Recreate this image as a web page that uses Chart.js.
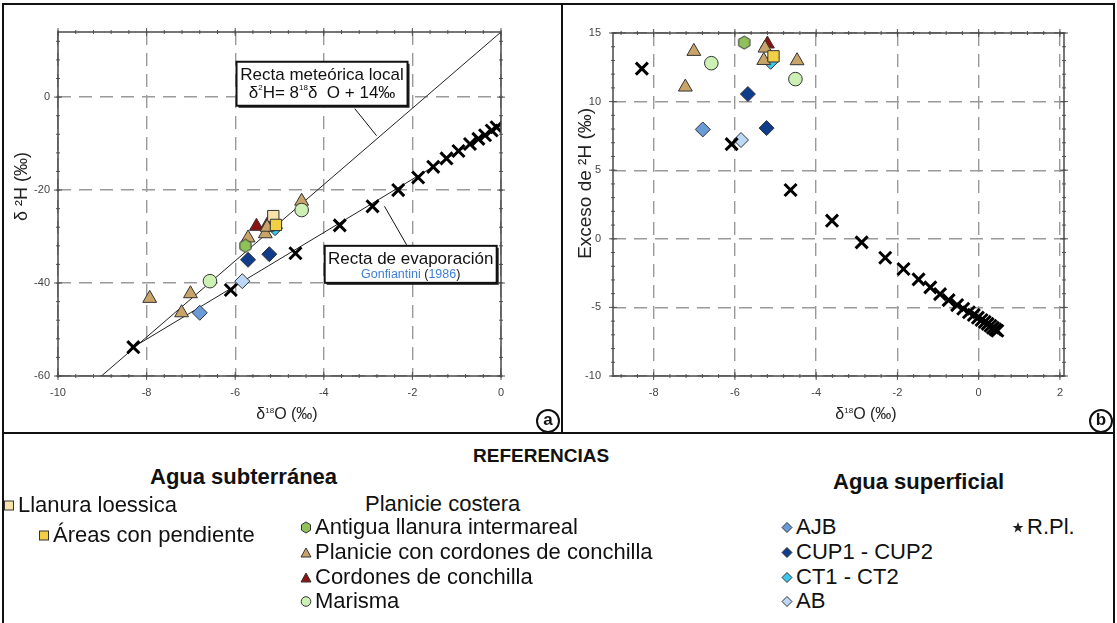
<!DOCTYPE html>
<html>
<head>
<meta charset="utf-8">
<script src="https://cdn.jsdelivr.net/npm/chart.js@4.4.1/dist/chart.umd.min.js"></script>
<style>
  body { margin: 0; background: #fff; font-family: "Liberation Sans", Arial, sans-serif; color: #111; }
  #wrap { position: relative; width: 1117px; height: 623px; overflow: hidden; background: #fff; }
  canvas { position: absolute; top: 0; }
  .rule { position: absolute; background: #111; }
  .xt { position: absolute; white-space: nowrap; font-size: 16px; color: #222; transform: translateX(-50%); }
  .xt sup { font-size: 8px; }
  .circ { position: absolute; width: 20px; height: 20px; border: 2px solid #111; border-radius: 50%;
          font: bold 17px "Liberation Sans", Arial, sans-serif; text-align: center; line-height: 18px; background: #fff; }
  .item { position: absolute; white-space: nowrap; font-size: 22px; line-height: 1; display: flex; align-items: center; }
  .item svg { margin-right: 3px; }
  .head { position: absolute; white-space: nowrap; font-weight: bold; line-height: 1; }
</style>
</head>
<body>
<div id="wrap">
  <canvas id="chartA" width="562" height="432" style="left:0"></canvas>
  <canvas id="chartB" width="554" height="432" style="left:563px"></canvas>

  <div class="xt" style="left:287px;top:405px">δ<sup>18</sup>O (‰)</div>
  <div class="xt" style="left:866px;top:405px">δ<sup>18</sup>O (‰)</div>
  <div class="circ" style="left:536px;top:409px">a</div>
  <div class="circ" style="left:1089px;top:409px">b</div>

  <!-- panel frames -->
  <div class="rule" style="left:2px;top:3px;width:1113px;height:2px"></div>
  <div class="rule" style="left:2px;top:3px;width:2px;height:620px"></div>
  <div class="rule" style="left:1113px;top:3px;width:2px;height:620px"></div>
  <div class="rule" style="left:561px;top:3px;width:2px;height:430px"></div>
  <div class="rule" style="left:2px;top:432px;width:1113px;height:2px"></div>

  <div id="legend"></div>
</div>

<script>
// ---- panel a: δ18O vs δ2H ----
const xTicksA = [-10, -8, -6, -4, -2, 0];
const yTicksA = [-60, -40, -20, 0];

const rplO_a = [-8.3, -6.1, -4.64, -3.64, -2.9, -2.32, -1.87, -1.53, -1.23, -0.96, -0.7, -0.51, -0.36, -0.21, -0.1];
const rplH_a = [-53.8, -41.5, -33.6, -27.6, -23.5, -20.0, -17.3, -15.0, -13.2, -11.6, -10.1, -9.0, -8.2, -7.2, -6.5];

const cordonesPlanO_a = [-7.93, -7.01, -7.21, -5.71, -5.32, -5.28, -4.5];
const cordonesPlanH_a = [-43.3, -42.3, -46.4, -30.3, -29.4, -28.0, -22.4];
const cordonesO_a = [-5.52, -5.27];
const cordonesH_a = [-27.8, -27.4];
const intermarealO_a = [-5.77];
const intermarealH_a = [-32.0];
const marismaO_a = [-6.57, -4.5];
const marismaH_a = [-39.6, -24.3];
const loessicaO_a = [-5.14];
const loessicaH_a = [-25.6];
const pendienteO_a = [-5.08];
const pendienteH_a = [-27.5];
const ajbO_a = [-6.8];
const ajbH_a = [-46.4];
const cupO_a = [-5.71, -5.23];
const cupH_a = [-35.0, -33.8];
const ctO_a = [-5.1];
const ctH_a = [-28.2];
const abO_a = [-5.84];
const abH_a = [-39.6];

// reference lines drawn in panel a
const meteoricO = [-9.02, 0];
const meteoricH = [-60, 14];
const evapO = [-8.3, 0];
const evapH = [-53.8, -6.2];

// ---- panel b: δ18O vs exceso de 2H ----
const xTicksB = [-8, -6, -4, -2, 0, 2];
const yTicksB = [-10, -5, 0, 5, 10, 15];

const rplO_b = [-8.29, -6.08, -4.63, -3.61, -2.88, -2.3, -1.85, -1.48, -1.19, -0.95, -0.74, -0.53, -0.38, -0.24, -0.12, -0.02, 0.07, 0.15, 0.22, 0.29, 0.35, 0.41, 0.46];
const rplD_b = [12.4, 6.9, 3.56, 1.32, -0.26, -1.38, -2.2, -2.96, -3.54, -4.03, -4.47, -4.83, -5.1, -5.35, -5.55, -5.75, -5.92, -6.06, -6.2, -6.34, -6.48, -6.6, -6.7];

const cordonesPlanO_b = [-7.01, -7.22, -5.29, -5.26, -4.47];
const cordonesPlanD_b = [13.66, 11.06, 13.0, 13.9, 12.98];
const cordonesO_b = [-5.2];
const cordonesD_b = [14.2];
const intermarealO_b = [-5.77];
const intermarealD_b = [14.3];
const marismaO_b = [-6.58, -4.51];
const marismaD_b = [12.8, 11.64];
const pendienteO_b = [-5.05];
const pendienteD_b = [13.3];
const ajbO_b = [-6.79];
const ajbD_b = [7.97];
const cupO_b = [-5.68, -5.22];
const cupD_b = [10.55, 8.07];
const ctO_b = [-5.12];
const ctD_b = [12.9];
const abO_b = [-5.85];
const abD_b = [7.2];

const colors = {
  cordonesPlan: '#c9a468',
  cordones: '#8e1212',
  intermareal: '#8fc05a',
  marisma: '#cdf0b4',
  loessica: '#f7e3aa',
  pendiente: '#f3cf45',
  ajb: '#6a9bd9',
  cup: '#0f3d8b',
  ct: '#3cc7ec',
  ab: '#bdd7f6'
};

function pts(xs, ys) {
  return xs.map((v, i) => ({ x: v, y: ys[i] }));
}

// hexagon marker for "Antigua llanura intermareal"
function hexagon(size, fill) {
  const c = document.createElement('canvas');
  c.width = c.height = size;
  const g = c.getContext('2d');
  const r = size / 2 - 1;
  g.beginPath();
  for (let i = 0; i < 6; i++) {
    const a = -Math.PI / 2 + i * Math.PI / 3;
    const px = size / 2 + r * Math.cos(a), py = size / 2 + r * Math.sin(a);
    if (i === 0) g.moveTo(px, py); else g.lineTo(px, py);
  }
  g.closePath();
  g.fillStyle = fill;
  g.fill();
  g.strokeStyle = '#333';
  g.lineWidth = 1;
  g.stroke();
  return c;
}
const hexImg = hexagon(15, colors.intermareal);

function markerSet(label, data, style, color, radius) {
  return {
    label, data,
    pointStyle: style,
    pointRadius: radius,
    pointBackgroundColor: color,
    pointBorderColor: '#333',
    pointBorderWidth: 1,
    showLine: false
  };
}

function rplSet(data) {
  return {
    label: 'R.Pl.', data,
    pointStyle: 'crossRot',
    pointRadius: 8.5,
    pointBorderColor: '#000',
    pointBorderWidth: 3,
    showLine: false
  };
}

// frame, tick marks and annotation boxes
const framePlugin = {
  id: 'frame',
  afterDatasetsDraw(chart, args, opts) {
    const { ctx, chartArea: a, scales: { x, y } } = chart;
    ctx.save();
    ctx.strokeStyle = '#555';
    ctx.lineWidth = 1;
    const mark = (v, len, axis) => {
      ctx.beginPath();
      if (axis === 'x') {
        const px = x.getPixelForValue(v);
        ctx.moveTo(px, a.bottom - len); ctx.lineTo(px, a.bottom + len);
        ctx.moveTo(px, a.top - len); ctx.lineTo(px, a.top + len);
      } else {
        const py = y.getPixelForValue(v);
        ctx.moveTo(a.left - len, py); ctx.lineTo(a.left + len, py);
        ctx.moveTo(a.right - len, py); ctx.lineTo(a.right + len, py);
      }
      ctx.stroke();
    };
    const first = (min, step) => Math.ceil(min / step - 1e-9) * step;
    for (let v = first(x.min, opts.xMinor); v <= x.max + 1e-9; v += opts.xMinor) mark(v, 2, 'x');
    for (let v = first(y.min, opts.yMinor); v <= y.max + 1e-9; v += opts.yMinor) mark(v, 2, 'y');
    x.ticks.forEach(t => mark(t.value, 4, 'x'));
    y.ticks.forEach(t => mark(t.value, 4, 'y'));
    ctx.lineWidth = 1.5;
    ctx.strokeStyle = '#4a4a4a';
    ctx.strokeRect(a.left, a.top, a.right - a.left, a.bottom - a.top);

    (opts.notes || []).forEach(n => {
      const bx = x.getPixelForValue(n.at[0]), by = y.getPixelForValue(n.at[1]);
      ctx.lineWidth = 1;
      ctx.strokeStyle = '#111';
      ctx.beginPath();
      ctx.moveTo(x.getPixelForValue(n.leader[0]), y.getPixelForValue(n.leader[1]));
      ctx.lineTo(x.getPixelForValue(n.leader[2]), y.getPixelForValue(n.leader[3]));
      ctx.stroke();
      ctx.fillStyle = '#222';
      ctx.fillRect(bx + 2, by + 2, n.w, n.h);
      ctx.fillStyle = '#fff';
      ctx.fillRect(bx, by, n.w, n.h);
      ctx.lineWidth = 2;
      ctx.strokeRect(bx, by, n.w, n.h);
      ctx.textBaseline = 'middle';
      n.lines.forEach(line => {
        // each part is [text, size, color, raise]
        let total = 0;
        line.parts.forEach(p => { ctx.font = p[1] + 'px "Liberation Sans", Arial'; total += ctx.measureText(p[0]).width; });
        let cx = bx + n.w / 2 - total / 2;
        line.parts.forEach(p => {
          ctx.font = p[1] + 'px "Liberation Sans", Arial';
          ctx.fillStyle = p[2] || '#111';
          ctx.fillText(p[0], cx, by + line.dy - (p[3] || 0));
          cx += ctx.measureText(p[0]).width;
        });
      });
    });
    ctx.restore();
  }
};

function axisOpts(min, max, ticks, pad, title, titleSize) {
  const o = {
    min, max,
    afterBuildTicks: s => { s.ticks = ticks.map(v => ({ value: v })); },
    grid: { color: '#9a9a9a', lineWidth: 1.4, drawTicks: false },
    border: { display: false, dash: [13, 8] },
    ticks: { color: '#444', font: { size: 11, family: '"Liberation Sans", Arial' }, padding: pad }
  };
  if (title) {
    o.title = { display: true, text: title, color: '#222', padding: { top: 3, bottom: 0 },
                font: { size: titleSize, family: '"Liberation Sans", Arial' } };
  }
  return o;
}

new Chart(document.getElementById('chartA'), {
  type: 'scatter',
  data: {
    datasets: [
      rplSet(pts(rplO_a, rplH_a)),
      markerSet('AJB', pts(ajbO_a, ajbH_a), 'rectRot', colors.ajb, 7.5),
      markerSet('CUP1 - CUP2', pts(cupO_a, cupH_a), 'rectRot', colors.cup, 7.5),
      markerSet('AB', pts(abO_a, abH_a), 'rectRot', colors.ab, 7.5),
      markerSet('Marisma', pts(marismaO_a, marismaH_a), 'circle', colors.marisma, 6.8),
      markerSet('Antigua llanura intermareal', pts(intermarealO_a, intermarealH_a), hexImg, colors.intermareal, 7),
      markerSet('Áreas con pendiente', pts(pendienteO_a, pendienteH_a), 'rect', colors.pendiente, 8),
      markerSet('Planicie con cordones de conchilla', pts(cordonesPlanO_a, cordonesPlanH_a), 'triangle', colors.cordonesPlan, 8),
      markerSet('Llanura loessica', pts(loessicaO_a, loessicaH_a), 'rect', colors.loessica, 8),
      markerSet('Cordones de conchilla', pts(cordonesO_a, cordonesH_a), 'triangle', colors.cordones, 8),
      markerSet('CT1 - CT2', pts(ctO_a, ctH_a), 'rectRot', colors.ct, 7.5),
      { label: 'Recta meteórica local', data: pts(meteoricO, meteoricH), showLine: true, pointRadius: 0,
        borderColor: '#222', borderWidth: 1, order: 5 },
      { label: 'Recta de evaporación', data: pts(evapO, evapH), showLine: true, pointRadius: 0,
        borderColor: '#222', borderWidth: 1, order: 5 }
    ]
  },
  options: {
    responsive: false,
    animation: false,
    layout: { padding: { left: 8, right: 61, top: 32, bottom: 6 } },
    plugins: {
      legend: { display: false },
      tooltip: { enabled: false },
      frame: {
        xMinor: 0.4, yMinor: 4,
        notes: [
          { at: [-5.97, 7.6], w: 171, h: 44, leader: [-3.3, -2.5, -2.81, -8.3],
            lines: [
              { dy: 14, parts: [['Recta meteórica local', 17]] },
              { dy: 32, parts: [['δ', 17], ['2', 8, null, 6], ['H= 8', 17], ['18', 8, null, 6], ['δ  O + 14‰', 17]] }
            ] },
          { at: [-3.98, -32.0], w: 172, h: 37, leader: [-2.13, -31.8, -2.63, -23.5],
            lines: [
              { dy: 13, parts: [['Recta de evaporación', 17]] },
              { dy: 29, parts: [['Gonfiantini ', 12.5, '#3f7fd6'], ['(', 12.5], ['1986', 12.5, '#3f7fd6'], [')', 12.5]] }
            ] }
        ]
      }
    },
    scales: {
      x: Object.assign(axisOpts(-10, 0, xTicksA, 10), { afterFit: s => { s.height = 50; } }),
      // leading spaces lift the title a little above the axis centre, as in the figure
      y: Object.assign(axisOpts(-60, 14, yTicksA, 8, '       δ ²H (‰)', 18), { afterFit: s => { s.width = 50; } })
    }
  },
  plugins: [framePlugin]
});

new Chart(document.getElementById('chartB'), {
  type: 'scatter',
  data: {
    datasets: [
      rplSet(pts(rplO_b, rplD_b)),
      markerSet('AJB', pts(ajbO_b, ajbD_b), 'rectRot', colors.ajb, 7.5),
      markerSet('CUP1 - CUP2', pts(cupO_b, cupD_b), 'rectRot', colors.cup, 7.5),
      markerSet('AB', pts(abO_b, abD_b), 'rectRot', colors.ab, 7.5),
      markerSet('Marisma', pts(marismaO_b, marismaD_b), 'circle', colors.marisma, 6.8),
      markerSet('Antigua llanura intermareal', pts(intermarealO_b, intermarealD_b), hexImg, colors.intermareal, 7),
      markerSet('Áreas con pendiente', pts(pendienteO_b, pendienteD_b), 'rect', colors.pendiente, 8),
      markerSet('Planicie con cordones de conchilla', pts(cordonesPlanO_b, cordonesPlanD_b), 'triangle', colors.cordonesPlan, 8),
      markerSet('CT1 - CT2', pts(ctO_b, ctD_b), 'rectRot', colors.ct, 7.5),
      markerSet('Cordones de conchilla', pts(cordonesO_b, cordonesD_b), 'triangle', colors.cordones, 8)
    ]
  },
  options: {
    responsive: false,
    animation: false,
    layout: { padding: { left: 8, right: 53, top: 33, bottom: 6 } },
    plugins: {
      legend: { display: false },
      tooltip: { enabled: false },
      frame: { xMinor: 0.4, yMinor: 1 }
    },
    scales: {
      x: Object.assign(axisOpts(-9, 2.1, xTicksB, 10), { afterFit: s => { s.height = 50; } }),
      y: Object.assign(axisOpts(-10, 15, yTicksB, 12, '        Exceso de ²H (‰)', 19), { afterFit: s => { s.width = 42; } })
    }
  },
  plugins: [framePlugin]
});

// ---- legend (REFERENCIAS) ----
const legendHeads = [
  ['REFERENCIAS', 473, 446, 19],
  ['Agua subterránea', 150, 466, 22],
  ['Agua superficial', 833, 471, 22]
];
const legendItems = [
  ['Llanura loessica', 'square', colors.loessica, 3, 505],
  ['Áreas con pendiente', 'square', colors.pendiente, 38, 535],
  ['Planicie costera', null, null, 365, 504],
  ['Antigua llanura intermareal', 'hex', colors.intermareal, 300, 527],
  ['Planicie con cordones de conchilla', 'tri', colors.cordonesPlan, 300, 552],
  ['Cordones de conchilla', 'tri', colors.cordones, 300, 577],
  ['Marisma', 'circle', colors.marisma, 300, 601],
  ['AJB', 'diamond', colors.ajb, 781, 527],
  ['CUP1 - CUP2', 'diamond', colors.cup, 781, 552],
  ['CT1 - CT2', 'diamond', colors.ct, 781, 577],
  ['AB', 'diamond', colors.ab, 781, 601],
  ['R.Pl.', 'star', '#222', 1012, 527]
];

function legendSymbol(kind, color) {
  const s = 'stroke="#333" stroke-width="1"';
  const shapes = {
    square: `<rect x="1.5" y="2" width="9" height="9" fill="${color}" ${s}/>`,
    hex: `<polygon points="6,1 10.5,3.7 10.5,9.2 6,12 1.5,9.2 1.5,3.7" fill="${color}" ${s}/>`,
    tri: `<polygon points="6,2 11,11 1,11" fill="${color}" ${s}/>`,
    circle: `<circle cx="6" cy="6.5" r="4.8" fill="${color}" ${s}/>`,
    diamond: `<polygon points="6,1.5 11,6.5 6,11.5 1,6.5" fill="${color}" ${s}/>`,
    star: `<polygon points="6,1 7.4,5 11.5,5 8.2,7.5 9.4,11.5 6,9 2.6,11.5 3.8,7.5 0.5,5 4.6,5" fill="${color}"/>`
  };
  return `<svg width="12" height="13" viewBox="0 0 12 13">${shapes[kind]}</svg>`;
}

const legendEl = document.getElementById('legend');
let html = '';
legendHeads.forEach(([text, left, top, size]) => {
  html += `<div class="head" style="left:${left}px;top:${top}px;font-size:${size}px">${text}</div>`;
});
legendItems.forEach(([text, kind, color, left, cy]) => {
  const sym = kind ? legendSymbol(kind, color) : '';
  html += `<div class="item" style="left:${left}px;top:${cy - 11}px;height:22px">${sym}<span>${text}</span></div>`;
});
legendEl.innerHTML = html;
</script>
</body>
</html>
